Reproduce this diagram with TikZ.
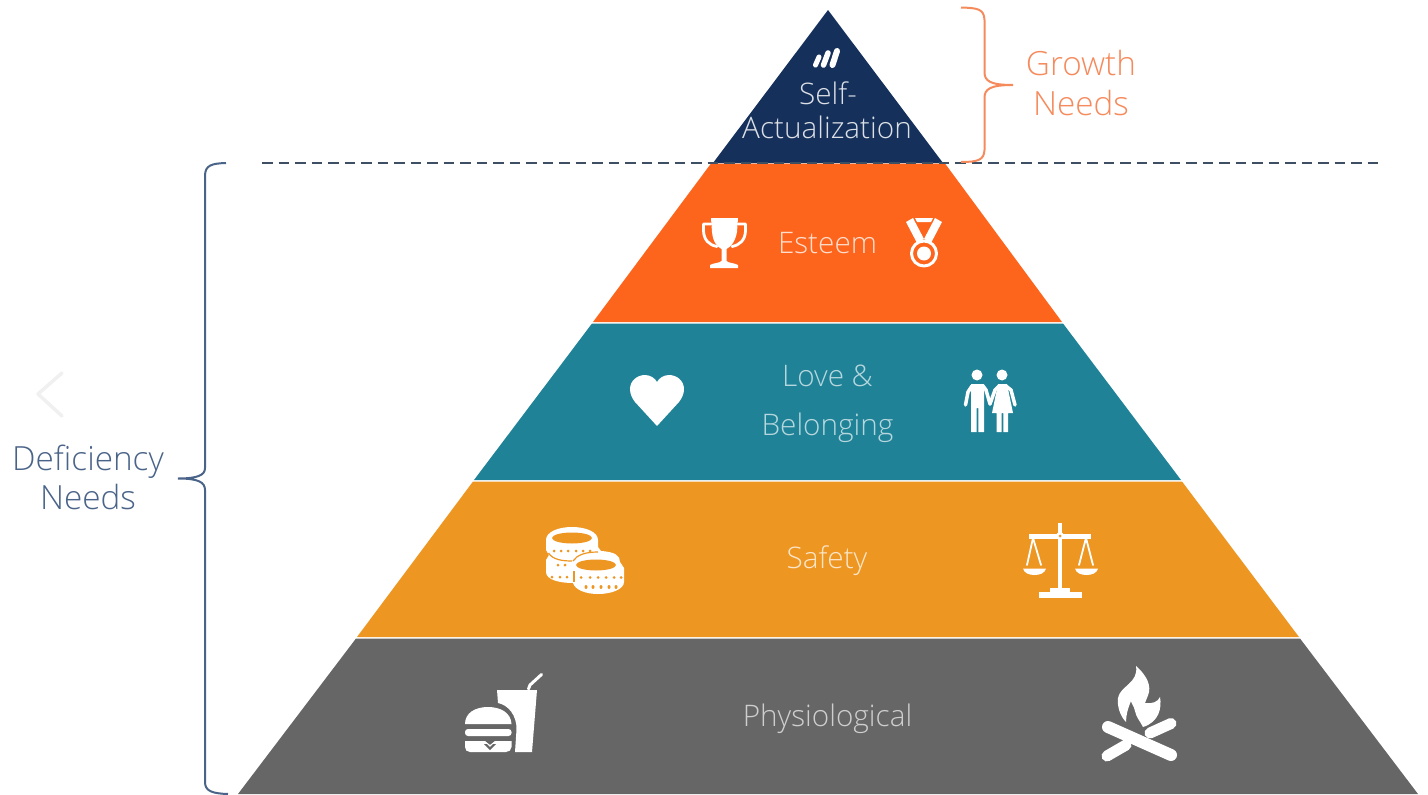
\documentclass[tikz,border=0pt]{standalone}
\usepackage{fontspec}
\newfontfamily\osl{Open Sans Light}
\definecolor{navy}{HTML}{15305A}
\definecolor{esteemc}{HTML}{FD641C}
\definecolor{tealc}{HTML}{1F8297}
\definecolor{amberc}{HTML}{EE9622}
\definecolor{grayc}{HTML}{666666}
\definecolor{growthc}{HTML}{F58A5C}
\definecolor{defc}{HTML}{4A6388}
\definecolor{dashc}{HTML}{3F4F63}
\tikzset{
  lbl/.style={font=\osl\fontsize{#1}{#1}\selectfont,inner sep=0pt,anchor=base},
  lbl/.default=29.7,
  ic/.style={fill=white,draw=none},
  ics/.style={draw=white,fill=none,line cap=round,line join=round},
}
\begin{document}
\begin{tikzpicture}[x=1pt,y=-1pt]
\useasboundingbox (0,0) rectangle (1428,795);
% layers
\fill[navy] (828,10) -- (943,163) -- (713,163) -- cycle;
\fill[esteemc] (711,163.5) -- (945,163.5) -- (1062,322) -- (593,322) -- cycle;
\fill[tealc] (592,323.5) -- (1063,323.5) -- (1181,480) -- (474,480) -- cycle;
\fill[amberc] (473,481.5) -- (1182,481.5) -- (1299,637) -- (357,637) -- cycle;
\fill[grayc] (356,638.5) -- (1300,638.5) -- (1418,794) -- (238,794) -- cycle;
% dashed divider
\coordinate (dashL) at (262,163);
\coordinate (dashR) at (1382,163);
\draw[dashc,line width=2.6pt,dash pattern=on 10.5pt off 6pt] (dashL) -- (dashR);
% braces
\draw[growthc,line width=2pt] (961,7.5) .. controls (978,8) and (984,9) .. (984.5,20) -- (984.5,72) .. controls (984.5,81) and (990,85) .. (1013,85) .. controls (990,85) and (984.5,89) .. (984.5,98) -- (984.5,150) .. controls (984,160) and (978,162) .. (961,162);
\draw[defc,line width=2pt] (226,163) .. controls (212,163.5) and (205,165) .. (205,176) -- (205,468) .. controls (205,475) and (198,478.5) .. (178,478.5) .. controls (198,478.5) and (205,482) .. (205,490) -- (205,782) .. controls (205,791) and (212,793.5) .. (228,794);
% chevron
\draw[gray!12,line width=3.5pt,line cap=round,line join=round] (62,373) -- (38,394) -- (62,416);
% labels
\node[lbl=29.7,text=white!85!navy] (selfa) at (828,104.5) {Self-};
\node[lbl=29.7,text=white!85!navy] (selfb) at (827,138.5) {Actualization};
\node[lbl=29.7,text=white!78!esteemc] (esteem) at (827.5,253) {Esteem};
\node[lbl=29.7,text=white!68!tealc] (love) at (827.5,386) {Love \&};
\node[lbl=29.7,text=white!68!tealc] (belong) at (827.5,435.5) {Belonging};
\node[lbl=29.7,text=white!75!amberc] (safety) at (827,568.5) {Safety};
\node[lbl=29.7,text=white!68!grayc] (physio) at (827.5,726) {Physiological};
\node[lbl=33.3,text=growthc] (gr1) at (1081,75) {Growth};
\node[lbl=33.3,text=growthc] (gr2) at (1081,115) {Needs};
\node[lbl=33.3,text=defc] (de1) at (88,470.5) {Deficiency};
\node[lbl=33.3,text=defc] (de2) at (88,509.5) {Needs};
% logo
\draw[ics,line width=5pt] (815.5,65) -- (819,57);
\draw[ics,line width=5.5pt] (823.5,65) -- (828,53);
\draw[ics,line width=6pt] (832.5,65) -- (837,51);
% trophy
\fill[ic] (711,218) -- (738,218) -- (737,232) .. controls (735,243) and (730,247) .. (726.5,249) -- (726.5,261) .. controls (728,263) and (735,263) .. (738,265) -- (738,268) -- (710,268) -- (710,265) .. controls (713,263) and (720,263) .. (721.5,261) -- (721.5,249) .. controls (718,247) and (713,243) .. (712,232) -- cycle;
\draw[ics,line width=2.8pt] (711,224) -- (703.5,224) -- (703.5,231) .. controls (704,240) and (709,245) .. (717,246.5);
\draw[ics,line width=2.8pt] (738,224) -- (745.5,224) -- (745.5,231) .. controls (745,240) and (740,245) .. (732,246.5);
% medal
\fill[ic] (906,222) -- (913,218) -- (924,239) -- (917,243) -- cycle;
\fill[ic] (942,222) -- (935,218) -- (924,239) -- (931,243) -- cycle;
\fill[ic] (915,218) -- (933,218) -- (931,222) -- (917,222) -- cycle;
\draw[ics,line width=3pt] (924,253.5) circle (12.5);
\fill[ic] (924,253.5) circle (7);
% heart
\fill[ic] (657,426) -- (635,402) .. controls (632,398) and (630,394) .. (630,389) .. controls (630,381) and (637,375) .. (645,375) .. controls (650,375) and (655,378) .. (657,382) .. controls (659,378) and (664,375) .. (669,375) .. controls (677,375) and (684,381) .. (684,389) .. controls (684,394) and (682,398) .. (679,402) -- cycle;
% people
\fill[ic] (977,375) circle (5.5);
\fill[ic] (1002,375) circle (5.5);
\fill[ic] (971,384) -- (984,384) -- (984,432) -- (978.3,432) -- (978.3,408) -- (976.7,408) -- (976.7,432) -- (971,432) -- cycle;
\draw[ics,line width=3.5pt] (972,386) -- (968,392) -- (965.5,405);
\draw[ics,line width=3.5pt] (983,386) -- (986,390) -- (990,404);
\fill[ic] (998,384) -- (1007,384) -- (1013,413) -- (1008,413) -- (1008,432) -- (1003.3,432) -- (1003.3,413) -- (1001.7,413) -- (1001.7,432) -- (996.5,432) -- (996.5,413) -- (992,413) -- cycle;
\draw[ics,line width=3.5pt] (999,386) -- (995,390) -- (990,404);
\draw[ics,line width=3.5pt] (1006,386) -- (1011,390) -- (1015,405);
% coins
\fill[ic] (546,540) .. controls (546,532) and (558,527) .. (572,527) .. controls (586,527) and (598,532) .. (598,540) -- (598,547) -- (601,551) .. controls (616,552) and (620,556) .. (620,562) -- (624,568) -- (624,582) .. controls (624,589) and (612,594) .. (598,594) .. controls (586,594) and (575,590) .. (573,583) .. controls (560,583) and (546,580) .. (546,572) -- (546,560) -- (549,555) -- (546,550) -- cycle;
\fill[amberc] (572,538) ellipse (20 and 5.5);
\fill[amberc] (596,565) ellipse (20 and 5.5);
\draw[amberc,line width=1.2pt] (548.5,553) .. controls (553,560) and (563,561) .. (572,561);
\draw[amberc,line width=1.2pt] (573,561) .. controls (577,555) and (585,552) .. (598,552);
\draw[amberc,line width=1.2pt] (574,571) -- (574,582);
\foreach \p in {554,561,568,576,583,590}{\fill[amberc] (\p,551) circle (1.5);}
\foreach \p in {558,565}{\fill[amberc] (\p,565) circle (1.5);}
\foreach \p in {552,560,567}{\fill[amberc] (\p,577) circle (1.5);}
\foreach \p in {586,593,601,609,616}{\fill[amberc] (\p,587) ellipse (1.5 and 2);}
\foreach \p in {581,590,598,606,614,621}{\fill[amberc] (\p,577.5) circle (1.5);}
% scales
\fill[ic] (1058,523) -- (1062,523) -- (1062,590) -- (1058,590) -- cycle;
\fill[ic] (1029,534) rectangle (1091,538.5);
\fill[ic] (1060,536) circle (4);
\fill[amberc] (1060,536) circle (1.5);
\draw[ics,line width=1.8pt] (1033,538) -- (1027,565);
\draw[ics,line width=1.8pt] (1033,538) -- (1041,565);
\draw[ics,line width=1.8pt] (1086,538) -- (1079,565);
\draw[ics,line width=1.8pt] (1086,538) -- (1093,565);
\fill[ic] (1023,568.5) -- (1046,568.5) .. controls (1045,573) and (1040,575) .. (1034.5,575) .. controls (1029,575) and (1024,573) .. (1023,568.5) -- cycle;
\fill[ic] (1075,568.5) -- (1098,568.5) .. controls (1097,573) and (1092,575) .. (1086.5,575) .. controls (1081,575) and (1076,573) .. (1075,568.5) -- cycle;
\fill[ic] (1050,588) rectangle (1070,592);
\fill[ic] (1038.5,592) rectangle (1082,597.5);
% burger and drink
\fill[ic] (465,724) .. controls (465,713) and (475,707) .. (488,707) .. controls (501,707) and (511,713) .. (511.5,724) -- cycle;
\fill[ic,rounded corners=3pt] (465,729) rectangle (511.5,736);
\fill[ic] (465,741) -- (485,741) -- (490,745) -- (495,741) -- (511.5,741) -- (511.5,747) .. controls (511.5,750) and (509,752) .. (506,752) -- (470,752) .. controls (467,752) and (465,750) .. (465,747) -- cycle;
\fill[grayc] (484,744) -- (490,750) -- (496,744) -- (493,744) -- (490,747) -- (487,744) -- cycle;
\fill[ic] (497,690) -- (537,690) -- (532,752) -- (515,752) -- (516.5,730) .. controls (517,715) and (508,705) .. (498,703) -- cycle;
\draw[ics,line width=3pt] (528.5,689) -- (530,685) -- (541.5,674.5);
% fire
\fill[ic] (1136,666) .. controls (1143,672) and (1151,682) .. (1149,692) .. controls (1148,697) and (1146,699) .. (1145,703) .. controls (1152,704) and (1158,702) .. (1160,697) .. controls (1162,708) and (1159,722) .. (1143,727) .. controls (1140,721) and (1136,717) .. (1135,711) .. controls (1134,706) and (1131,703) .. (1131,701) .. controls (1128,708) and (1126,715) .. (1126,722) .. controls (1120,716) and (1117,706) .. (1118,698) .. controls (1120,686) and (1139,683) .. (1136,666) -- cycle;
\draw[ics,line width=12pt] (1108,727) -- (1171,755);
\draw[ics,line width=11pt] (1107,756) -- (1126,745);
\draw[ics,line width=11pt] (1150,733) -- (1171,723.5);
\end{tikzpicture}
\end{document}
